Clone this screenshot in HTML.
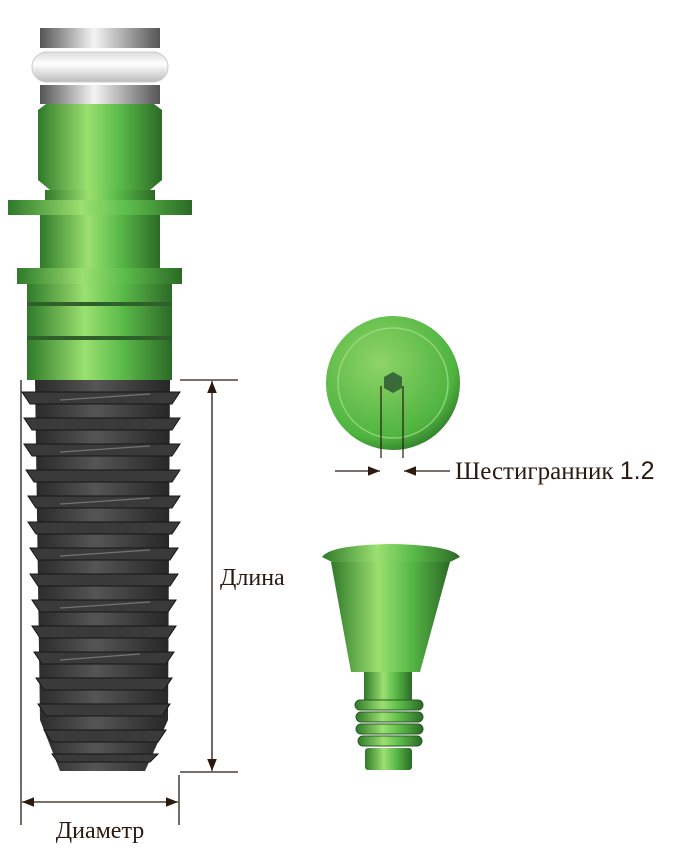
<!DOCTYPE html>
<html><head><meta charset="utf-8"><style>
body{margin:0;background:#fff;width:686px;height:854px;overflow:hidden}
text{font-family:"Liberation Serif",serif;fill:#2a1a10}
</style></head><body>
<svg width="686" height="854" viewBox="0 0 686 854" xmlns="http://www.w3.org/2000/svg">
<defs>
<linearGradient id="g" x1="0" x2="1"><stop offset="0" stop-color="#2f7a2a"/><stop offset=".4" stop-color="#9be070"/><stop offset=".65" stop-color="#5cbc4a"/><stop offset="1" stop-color="#2b6a26"/></linearGradient>
<linearGradient id="s" x1="0" x2="1"><stop offset="0" stop-color="#555"/><stop offset=".45" stop-color="#f4f4f4"/><stop offset="1" stop-color="#555"/></linearGradient>
<linearGradient id="w" x1="0" y1="0" x2="0" y2="1"><stop offset="0" stop-color="#ddd"/><stop offset=".4" stop-color="#fff"/><stop offset="1" stop-color="#bbb"/></linearGradient>
<linearGradient id="d" x1="0" x2="1"><stop offset="0" stop-color="#2a2a2a"/><stop offset=".45" stop-color="#555"/><stop offset="1" stop-color="#262626"/></linearGradient>
<radialGradient id="c" cx=".4" cy=".35" r=".7"><stop offset="0" stop-color="#8fd468"/><stop offset=".8" stop-color="#4fb440"/><stop offset="1" stop-color="#2f7a2a"/></radialGradient>
<marker id="a" viewBox="0 0 10 10" refX="10" refY="5" markerWidth="12" markerHeight="12" markerUnits="userSpaceOnUse" orient="auto-start-reverse"><path d="M0,1L10,5L0,9z" fill="#2a1a10"/></marker>
</defs>
<rect x="40" y="28" width="120" height="20" fill="url(#s)"/>
<rect x="32" y="52" width="136" height="30" rx="15" fill="url(#w)" stroke="#ccc"/>
<rect x="40" y="85" width="120" height="19" fill="url(#s)"/>
<path d="M38,110 L46,104 H154 L162,110 V180 L150,190 H50 L38,180Z" fill="url(#g)"/>
<rect x="45" y="190" width="110" height="10" fill="url(#g)"/>
<rect x="8" y="200" width="184" height="15" fill="url(#g)"/>
<rect x="40" y="215" width="120" height="53" fill="url(#g)"/>
<rect x="17" y="268" width="165" height="16" fill="url(#g)"/>
<rect x="27" y="284" width="145" height="96" fill="url(#g)"/>
<rect x="27" y="302" width="145" height="4" fill="#2f5f2a"/>
<rect x="27" y="336" width="145" height="4" fill="#2f5f2a"/>
<path d="M35,380 H170 L168,720 L145,771 H60 L40,720Z" fill="url(#d)"/>
<g fill="#3a3a3a" stroke="#151515" stroke-width="1">
<path d="M22,392 H180 L172,404 H30Z"/><path d="M24,418 H180 L172,430 H32Z"/><path d="M24,444 H180 L172,456 H32Z"/>
<path d="M26,470 H180 L172,482 H34Z"/><path d="M28,496 H180 L172,508 H36Z"/><path d="M28,522 H180 L172,534 H36Z"/>
<path d="M30,548 H178 L170,560 H38Z"/><path d="M30,574 H178 L170,586 H38Z"/><path d="M32,600 H176 L168,612 H40Z"/>
<path d="M32,626 H176 L168,638 H40Z"/><path d="M34,652 H174 L166,664 H42Z"/><path d="M36,678 H172 L164,690 H44Z"/>
<path d="M38,704 H170 L162,716 H46Z"/><path d="M44,730 H166 L158,742 H52Z"/><path d="M52,754 H158 L150,762 H58Z"/>
</g>
<g stroke="#999" stroke-width="1.2" opacity=".6"><line x1="60" y1="400" x2="150" y2="394"/><line x1="60" y1="452" x2="150" y2="446"/><line x1="60" y1="504" x2="150" y2="498"/><line x1="60" y1="556" x2="150" y2="550"/><line x1="60" y1="608" x2="150" y2="602"/><line x1="60" y1="660" x2="140" y2="654"/></g>
<g stroke="#2a1a10" stroke-width="1.3" fill="none">
<line x1="180" y1="380" x2="238" y2="380"/><line x1="180" y1="772" x2="238" y2="772"/>
<line x1="212" y1="381" x2="212" y2="771" marker-start="url(#a)" marker-end="url(#a)"/>
<line x1="21" y1="380" x2="21" y2="825"/><line x1="179" y1="775" x2="179" y2="825"/>
<line x1="22" y1="802" x2="178" y2="802" marker-start="url(#a)" marker-end="url(#a)"/>
</g>
<text x="220" y="585" font-size="24">Длина</text>
<text x="100" y="838" font-size="24" text-anchor="middle">Диаметр</text>
<circle cx="393" cy="383" r="67" fill="url(#c)"/>
<circle cx="393" cy="383" r="55" fill="none" stroke="#a8e08a" stroke-width="1.5" opacity=".7"/>
<polygon points="393,372 402,377 402,388 393,393 384,388 384,377" fill="#3a6a3a"/>
<g stroke="#2a1a10" stroke-width="1.2">
<line x1="381" y1="386" x2="381" y2="458"/><line x1="403" y1="386" x2="403" y2="458"/>
<line x1="335" y1="471" x2="380" y2="471" marker-end="url(#a)"/><line x1="450" y1="471" x2="404" y2="471" marker-end="url(#a)"/>
</g>
<text x="455" y="479" font-size="25">Шестигранник <tspan font-family="Liberation Sans">1.2</tspan></text>
<path d="M322,557 Q330,545 390,544 Q452,545 460,557 L450,562 H332Z" fill="url(#g)"/>
<path d="M331,562 H450 L420,672 H351Z" fill="url(#g)"/>
<rect x="364" y="672" width="48" height="28" fill="url(#g)"/>
<g fill="url(#g)" stroke="#2a5a26" stroke-width="1">
<rect x="355" y="700" width="68" height="10" rx="5"/><rect x="356" y="712" width="67" height="10" rx="5"/><rect x="356" y="724" width="67" height="10" rx="5"/><rect x="358" y="736" width="64" height="10" rx="5"/>
</g>
<rect x="365" y="748" width="47" height="22" rx="3" fill="url(#g)"/>
</svg>
</body></html>
